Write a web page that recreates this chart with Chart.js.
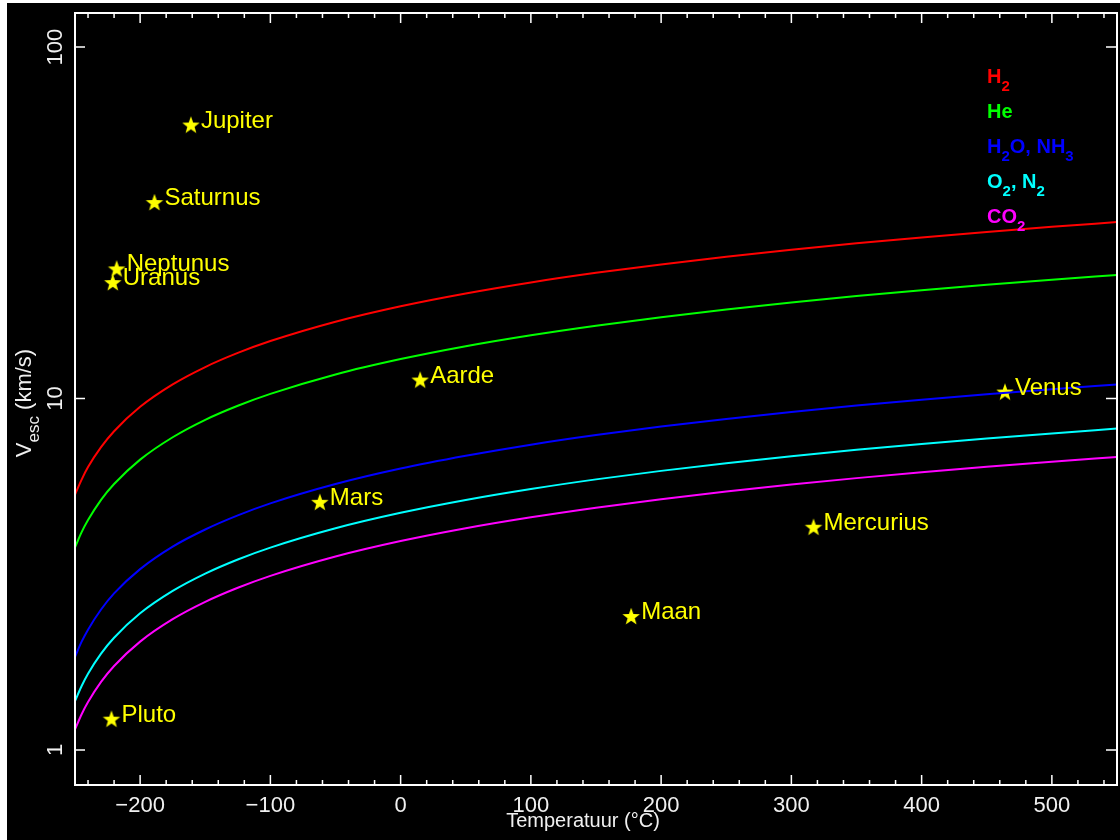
<!DOCTYPE html>
<html lang="nl">
  <head>
    <meta charset="UTF-8" />
    <title>Ontsnappingssnelheid en temperatuur</title>
    <script src="https://cdn.jsdelivr.net/npm/chart.js"></script>
    <style>
      body { margin: 0; background: #fff; }
      #wrap {
        position: absolute;
        left: 7px;
        top: 3px;
        width: 1113px;
        height: 837px;
        background: #000;
      }
    </style>
  </head>
  <body>
    <div id="wrap"><canvas id="chart"></canvas></div>

    <script>
      // temperatuur (graden C) en 10x gemiddelde snelheid (km/s) per gas
      const temps = [-250, -245, -240, -230, -220, -200, -175, -150, -125, -100, -50, 0, 50, 100, 150, 200, 250, 300, 350, 400, 450, 500, 550];
      const vH2 = [5.33, 5.87, 6.38, 7.27, 8.07, 9.47, 10.97, 12.29, 13.48, 14.57, 16.54, 18.3, 19.9, 21.39, 22.78, 24.08, 25.33, 26.51, 27.64, 28.73, 29.78, 30.79, 31.77];
      const vHe = [3.77, 4.16, 4.51, 5.15, 5.71, 6.7, 7.76, 8.7, 9.54, 10.31, 11.71, 12.95, 14.09, 15.14, 16.12, 17.04, 17.92, 18.76, 19.56, 20.33, 21.07, 21.79, 22.48];
      const vH2O = [1.84, 2.03, 2.2, 2.51, 2.79, 3.27, 3.79, 4.24, 4.65, 5.03, 5.71, 6.32, 6.87, 7.39, 7.87, 8.32, 8.75, 9.16, 9.55, 9.92, 10.28, 10.63, 10.97];
      const vO2 = [1.377, 1.518, 1.648, 1.88, 2.086, 2.448, 2.835, 3.176, 3.484, 3.766, 4.275, 4.73, 5.145, 5.528, 5.888, 6.225, 6.546, 6.852, 7.144, 7.425, 7.696, 7.958, 8.211];
      const vCO2 = [1.144, 1.262, 1.369, 1.562, 1.734, 2.034, 2.356, 2.639, 2.894, 3.129, 3.552, 3.93, 4.275, 4.593, 4.892, 5.172, 5.439, 5.693, 5.936, 6.169, 6.395, 6.612, 6.822];

      const planeten = ["Jupiter", "Saturnus", "Neptunus", "Uranus", "Aarde", "Venus", "Mars", "Mercurius", "Maan", "Pluto"];
      const planeetTemp = [-161, -189, -218, -221, 15, 464, -62, 317, 177, -222];
      const planeetVesc = [59.8, 36, 23.3, 21.3, 11.25, 10.4, 5.05, 4.29, 2.39, 1.22];

      const xMajor = [-200, -100, 0, 100, 200, 300, 400, 500];
      const yMajor = [1, 10, 100];

      const pts = (ys) => ys.map((v, i) => ({ x: temps[i], y: v }));

      // gevulde gele ster als puntstijl
      const ster = document.createElement("canvas");
      ster.width = 22;
      ster.height = 22;
      const sc = ster.getContext("2d");
      sc.fillStyle = "#ffff00";
      sc.beginPath();
      for (let i = 0; i < 10; i++) {
        const r = i % 2 === 0 ? 9.2 : 3.8;
        const a = -Math.PI / 2 + (i * Math.PI) / 5;
        sc.lineTo(11 + r * Math.cos(a), 11 + r * Math.sin(a));
      }
      sc.closePath();
      sc.fill();

      function rich(ctx, x, y, parts, size, bold) {
        let cx = x;
        parts.forEach(([t, sub]) => {
          const fs = sub ? Math.round(size * 0.75) : size;
          ctx.font = (bold ? "bold " : "") + fs + "px 'Liberation Sans'";
          ctx.fillText(t, cx, sub ? y + 8 : y);
          cx += ctx.measureText(t).width;
        });
        return cx - x;
      }

      function richWidth(ctx, parts, size, bold) {
        let w = 0;
        parts.forEach(([t, sub]) => {
          const fs = sub ? Math.round(size * 0.75) : size;
          ctx.font = (bold ? "bold " : "") + fs + "px 'Liberation Sans'";
          w += ctx.measureText(t).width;
        });
        return w;
      }

      const assen = {
        id: "assen",
        afterDatasetsDraw(chart) {
          const ctx = chart.ctx;
          // namen naast de sterren
          ctx.save();
          ctx.fillStyle = "#ffff00";
          ctx.font = "24px 'Liberation Sans'";
          ctx.textBaseline = "alphabetic";
          chart.getDatasetMeta(5).data.forEach((p, i) => {
            ctx.fillText(planeten[i], p.x + 10, p.y + 2);
          });
          ctx.restore();
        },
        afterDraw(chart) {
          const ctx = chart.ctx;
          const a = chart.chartArea;
          const xs = chart.scales.x;
          const ys = chart.scales.y;
          ctx.save();
          ctx.strokeStyle = "#fff";
          ctx.lineWidth = 2;
          ctx.strokeRect(a.left, a.top, a.right - a.left, a.bottom - a.top);

          ctx.lineWidth = 1.5;
          ctx.beginPath();
          for (let t = -240; t <= 540; t += 20) {
            const px = xs.getPixelForValue(t);
            const len = t % 100 === 0 ? 10 : 5;
            ctx.moveTo(px, a.bottom);
            ctx.lineTo(px, a.bottom - len);
            ctx.moveTo(px, a.top);
            ctx.lineTo(px, a.top + len);
          }
          yMajor.forEach((v) => {
            const py = ys.getPixelForValue(v);
            ctx.moveTo(a.left, py);
            ctx.lineTo(a.left + 10, py);
            ctx.moveTo(a.right, py);
            ctx.lineTo(a.right - 11, py);
          });
          ctx.stroke();

          ctx.fillStyle = "#f0f0f0";
          ctx.font = "22px 'Liberation Sans'";
          ctx.textAlign = "center";
          ctx.textBaseline = "alphabetic";
          xMajor.forEach((t) => {
            const lbl = t < 0 ? "\u2212" + Math.abs(t) : String(t);
            ctx.fillText(lbl, xs.getPixelForValue(t), 809);
          });

          yMajor.forEach((v) => {
            ctx.save();
            ctx.translate(55, ys.getPixelForValue(v));
            ctx.rotate(-Math.PI / 2);
            ctx.fillText(String(v), 0, 0);
            ctx.restore();
          });

          ctx.font = "20px 'Liberation Sans'";
          ctx.fillText("Temperatuur (°C)", 576, 824);

          // y-as titel met subscript
          const titel = [["V", false], ["esc", true], [" (km/s)", false]];
          ctx.save();
          ctx.translate(24, 400);
          ctx.rotate(-Math.PI / 2);
          ctx.textAlign = "left";
          const w = richWidth(ctx, titel, 22, false);
          rich(ctx, -w / 2, 0, titel, 22, false);
          ctx.restore();

          // legenda
          const legenda = [
            ["#ff0000", [["H", false], ["2", true]]],
            ["#00ff00", [["He", false]]],
            ["#0000ff", [["H", false], ["2", true], ["O, NH", false], ["3", true]]],
            ["#00ffff", [["O", false], ["2", true], [", N", false], ["2", true]]],
            ["#ff00ff", [["CO", false], ["2", true]]],
          ];
          ctx.textAlign = "left";
          legenda.forEach(([kleur, delen], i) => {
            ctx.fillStyle = kleur;
            rich(ctx, 980, 80 + i * 35, delen, 20, true);
          });
          ctx.restore();
        },
      };

      const lijn = (data, kleur) => ({
        data: pts(data),
        borderColor: kleur,
        borderWidth: 2,
        pointRadius: 0,
        cubicInterpolationMode: "monotone",
        fill: false,
      });

      new Chart(document.getElementById("chart"), {
        type: "line",
        data: {
          datasets: [
            lijn(vH2, "#ff0000"),
            lijn(vHe, "#00ff00"),
            lijn(vH2O, "#0000ff"),
            lijn(vO2, "#00ffff"),
            lijn(vCO2, "#ff00ff"),
            {
              data: planeetTemp.map((t, i) => ({ x: t, y: planeetVesc[i] })),
              showLine: false,
              pointStyle: ster,
              pointRadius: 10,
              pointHoverRadius: 10,
            },
          ],
        },
        options: {
          responsive: true,
          maintainAspectRatio: false,
          animation: false,
          events: [],
          layout: {
            autoPadding: false,
            padding: { left: 68, right: 3, top: 10, bottom: 55 },
          },
          plugins: { legend: { display: false }, tooltip: { enabled: false } },
          scales: {
            x: { type: "linear", min: -250, max: 550, display: false },
            y: { type: "logarithmic", min: 0.795, max: 125, display: false },
          },
        },
        plugins: [assen],
      });
    </script>
  </body>
</html>
